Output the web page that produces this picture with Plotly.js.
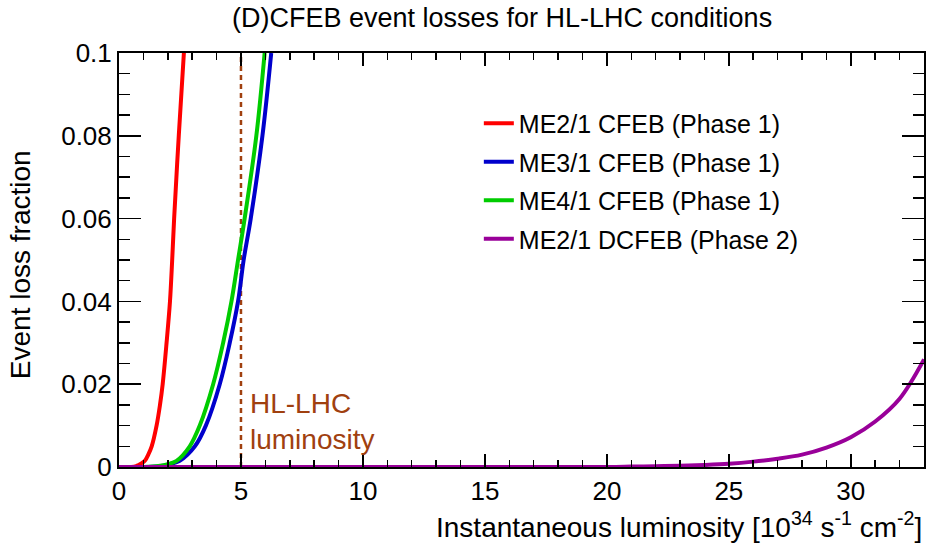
<!DOCTYPE html>
<html>
<head>
<meta charset="utf-8">
<script src="https://cdn.plot.ly/plotly-3.0.1.min.js"></script>
<style>html,body{margin:0;padding:0;background:#fff;}#plot{width:928px;height:545px;}</style>
</head>
<body>
<div id="plot"></div>
<script>
// ---- data ----
const redX   = [0, 0.5, 0.7, 0.8, 0.95, 1.06, 1.2, 1.34, 1.54, 1.68, 1.79, 1.95, 2.09, 2.18, 2.26, 2.45, 2.66];
const redY   = [0, 0, 0.0002, 0.0005, 0.001, 0.0015, 0.003, 0.005, 0.01, 0.015, 0.02, 0.03, 0.04, 0.05, 0.06, 0.08, 0.1];
const blueX  = [0, 1.2, 1.8, 2.1, 2.49, 3.11, 3.56, 4.13, 4.54, 4.88, 5.11, 5.40, 5.88, 6.24];
const blueY  = [0, 0, 0.0003, 0.0007, 0.0015, 0.005, 0.01, 0.02, 0.03, 0.04, 0.05, 0.06, 0.08, 0.1];
const greenX = [0, 1.0, 1.68, 2.0, 2.36, 2.9, 3.31, 3.86, 4.27, 4.61, 4.88, 5.15, 5.63, 5.97];
const greenY = [0, 0, 0.0003, 0.0007, 0.0015, 0.005, 0.01, 0.02, 0.03, 0.04, 0.05, 0.06, 0.08, 0.1];
const purpleX = [0, 20, 21, 22, 23, 24, 25, 26, 27, 28, 29, 30, 31, 32, 33];
const purpleY = [0, 0, 0.0001, 0.0002, 0.0003, 0.0005, 0.0008, 0.0013, 0.002, 0.003, 0.0047, 0.0072, 0.011, 0.0165, 0.026];
const seriesNames = ["ME2/1 CFEB (Phase 1)", "ME3/1 CFEB (Phase 1)", "ME4/1 CFEB (Phase 1)", "ME2/1 DCFEB (Phase 2)"];
const hlLumiX = [5, 5];
const hlLumiY = [0, 0.1];
const xTickVals = [0, 5, 10, 15, 20, 25, 30];
const yTickVals = [0, 0.02, 0.04, 0.06, 0.08, 0.1];
const yTickText = ["0", "0.02", "0.04", "0.06", "0.08", "0.1"];

const FONT = "Liberation Sans, Arial, Helvetica, sans-serif";
const BROWN = "#a0400f";

function curve(x, y, name, color, grp) {
  return {x: x, y: y, name: name, type: "scatter", mode: "lines",
          line: {color: color, width: 4, shape: "spline", smoothing: 1},
          legendgroup: grp, cliponaxis: true};
}

const traces = [
  {x: hlLumiX, y: hlLumiY, type: "scatter", mode: "lines", showlegend: false,
   line: {color: BROWN, width: 2.5, dash: "5px,4px"}, hoverinfo: "skip"},
  curve(redX, redY, seriesNames[0], "#ff0000", "a"),
  curve(blueX, blueY, seriesNames[1], "#0000cc", "b"),
  curve(greenX, greenY, seriesNames[2], "#00cc00", "c"),
  curve(purpleX, purpleY, seriesNames[3], "#990099", "d")
];

const axisCommon = {
  showline: true, linecolor: "#000", linewidth: 2, mirror: "allticks",
  ticks: "inside", tickcolor: "#000", tickwidth: 1.5,
  showgrid: false, zeroline: false,
  tickfont: {family: FONT, size: 26, color: "#000"}
};

const layout = {
  width: 928, height: 545,
  margin: {l: 119, r: 4, t: 53, b: 78},
  paper_bgcolor: "#fff", plot_bgcolor: "#fff",
  font: {family: FONT, color: "#000"},
  title: {text: "(D)CFEB event losses for HL-LHC conditions",
          font: {family: FONT, size: 27, color: "#000"},
          x: 0.541, xanchor: "center", xref: "container",
          y: 0.967, yanchor: "middle", yref: "container"},
  xaxis: Object.assign({}, axisCommon, {
    range: [0, 33], tickvals: xTickVals, ticklen: 13,
    minor: {dtick: 1, ticklen: 7, ticks: "inside", tickcolor: "#000", tickwidth: 1.5, showgrid: false}
  }),
  yaxis: Object.assign({}, axisCommon, {
    range: [0, 0.1], tickvals: yTickVals, ticktext: yTickText, ticklen: 22,
    minor: {dtick: 0.005, ticklen: 11, ticks: "inside", tickcolor: "#000", tickwidth: 1.5, showgrid: false}
  }),
  showlegend: true,
  legend: {x: 0.447, xanchor: "left", y: 0.885, yanchor: "top",
           bgcolor: "rgba(0,0,0,0)", borderwidth: 0,
           font: {family: FONT, size: 25, color: "#000"},
           tracegroupgap: 3, traceorder: "grouped", itemwidth: 30},
  annotations: [
    {text: "HL-LHC<br>luminosity", x: 5, y: 0.011, xref: "x", yref: "y",
     xanchor: "left", yanchor: "middle", xshift: 7, align: "left", showarrow: false,
     font: {family: FONT, size: 28, color: BROWN}},
    {text: "Instantaneous luminosity [10<sup>34</sup> s<sup>-1</sup> cm<sup>-2</sup>]",
     x: 1, y: -0.092, xref: "paper", yref: "paper", xanchor: "right", yanchor: "top",
     showarrow: false, font: {family: FONT, size: 28, color: "#000"}},
    {text: "Event loss fraction", x: -0.123, y: 0.49, xref: "paper", yref: "paper",
     xanchor: "center", yanchor: "middle", textangle: -90, showarrow: false,
     font: {family: FONT, size: 28, color: "#000"}}
  ]
};

Plotly.newPlot("plot", traces, layout, {staticPlot: true, displayModeBar: false});
</script>
</body>
</html>
